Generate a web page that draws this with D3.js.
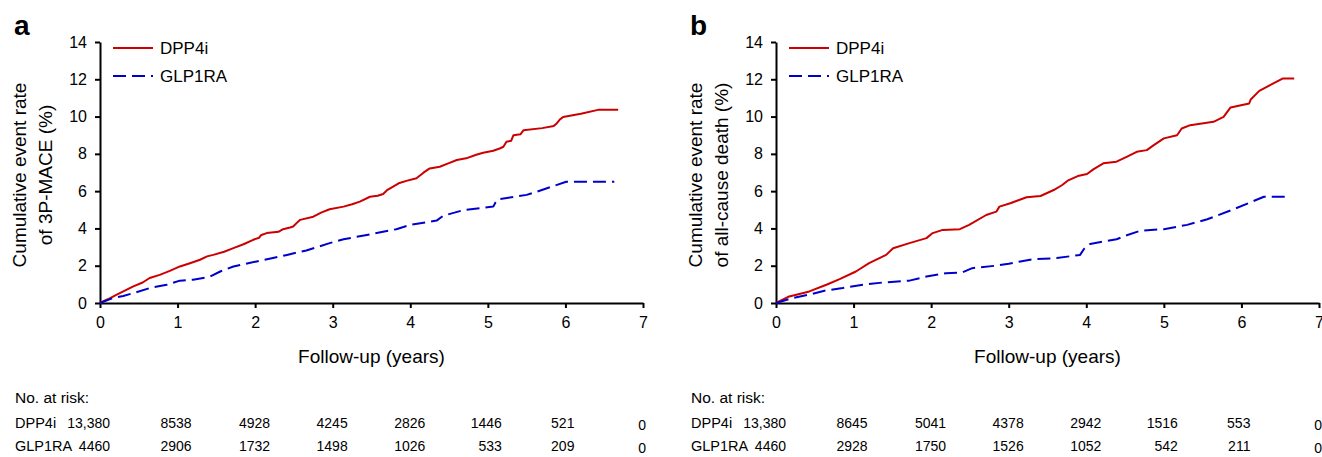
<!DOCTYPE html>
<html>
<head>
<meta charset="utf-8">
<script src="https://cdn.jsdelivr.net/npm/d3@7"></script>
<style>
  html, body { margin: 0; padding: 0; background: #fff; }
  svg { display: block; font-family: "Liberation Sans", Arial, Helvetica, sans-serif; }
</style>
</head>
<body>
<svg id="chart" width="1322" height="457"></svg>
<script>
// ---------- data ----------
const xTicks = [0, 1, 2, 3, 4, 5, 6, 7];
const yTicks = [0, 2, 4, 6, 8, 10, 12, 14];
const seriesNames = ["DPP4i", "GLP1RA"];
const panelLetters = ["a", "b"];
const yTitles = [["Cumulative event rate", "of 3P-MACE (%)"], ["Cumulative event rate", "of all-cause death (%)"]];
const xTitle = "Follow-up (years)";
const riskLabel = "No. at risk:";

const maceDPP4i = [[0,0],[0.1,0.2],[0.21,0.44],[0.43,0.89],[0.55,1.1],[0.64,1.34],[0.77,1.51],[0.9,1.72],[1.03,1.96],[1.15,2.12],[1.29,2.32],[1.38,2.5],[1.46,2.58],[1.6,2.75],[1.72,2.94],[1.85,3.15],[1.975,3.39],[2.05,3.5],[2.08,3.65],[2.15,3.75],[2.3,3.82],[2.36,3.96],[2.45,4.05],[2.49,4.1],[2.55,4.35],[2.58,4.46],[2.75,4.63],[2.85,4.85],[2.96,5.03],[3.14,5.17],[3.25,5.3],[3.35,5.44],[3.48,5.7],[3.58,5.75],[3.65,5.85],[3.7,6.05],[3.74,6.15],[3.85,6.42],[3.95,6.55],[4.08,6.69],[4.17,6.99],[4.25,7.22],[4.38,7.31],[4.49,7.49],[4.6,7.67],[4.72,7.76],[4.85,7.95],[4.94,8.06],[5.07,8.17],[5.16,8.3],[5.2,8.38],[5.24,8.65],[5.3,8.7],[5.33,9.0],[5.42,9.05],[5.46,9.27],[5.7,9.38],[5.85,9.5],[5.88,9.6],[5.93,9.85],[5.97,9.98],[6.2,10.15],[6.42,10.36],[6.68,10.36]];
const maceGLP1RA = [[0,0],[0.17,0.27],[0.3,0.38],[0.43,0.53],[0.64,0.8],[0.86,0.98],[1.03,1.2],[1.2,1.25],[1.35,1.35],[1.42,1.42],[1.55,1.69],[1.72,1.96],[2.02,2.23],[2.23,2.41],[2.41,2.58],[2.66,2.82],[2.8,3.0],[2.96,3.21],[3.14,3.42],[3.44,3.65],[3.82,3.96],[4.0,4.19],[4.34,4.42],[4.42,4.67],[4.69,4.99],[5.07,5.17],[5.1,5.4],[5.13,5.56],[5.5,5.8],[5.63,5.97],[6.01,6.5],[6.63,6.5]];
const deathDPP4i = [[0,0],[0.17,0.35],[0.43,0.62],[0.65,0.98],[0.82,1.28],[1.03,1.69],[1.2,2.14],[1.42,2.58],[1.51,2.94],[1.72,3.21],[1.94,3.48],[2.02,3.75],[2.15,3.92],[2.37,3.96],[2.49,4.19],[2.71,4.72],[2.84,4.9],[2.88,5.17],[3.02,5.35],[3.23,5.67],[3.41,5.74],[3.58,6.06],[3.69,6.33],[3.76,6.56],[3.89,6.81],[4.01,6.92],[4.09,7.17],[4.22,7.49],[4.39,7.58],[4.52,7.84],[4.65,8.11],[4.78,8.2],[4.87,8.47],[5.0,8.83],[5.17,9.0],[5.23,9.36],[5.34,9.54],[5.64,9.72],[5.77,9.98],[5.86,10.49],[6.1,10.7],[6.12,10.92],[6.23,11.38],[6.53,12.04],[6.68,12.04]];
const deathGLP1RA = [[0,0],[0.22,0.27],[0.43,0.45],[0.65,0.68],[0.86,0.8],[1.12,0.98],[1.38,1.1],[1.72,1.2],[1.94,1.42],[2.19,1.6],[2.4,1.64],[2.53,1.87],[2.83,2.0],[3.0,2.1],[3.15,2.23],[3.32,2.35],[3.62,2.41],[3.92,2.58],[3.97,2.9],[4.05,3.17],[4.39,3.42],[4.5,3.6],[4.7,3.88],[5.0,3.96],[5.3,4.19],[5.56,4.49],[5.9,5.03],[6.29,5.7],[6.63,5.7]];

const maceRiskDPP4i = ["13,380", "8538", "4928", "4245", "2826", "1446", "521", "0"];
const maceRiskGLP1RA = ["4460", "2906", "1732", "1498", "1026", "533", "209", "0"];
const deathRiskDPP4i = ["13,380", "8645", "5041", "4378", "2942", "1516", "553", "0"];
const deathRiskGLP1RA = ["4460", "2928", "1750", "1526", "1052", "542", "211", "0"];

const panels = [
  { letter: panelLetters[0], yTitle: yTitles[0], curves: [maceDPP4i, maceGLP1RA], risk: [maceRiskDPP4i, maceRiskGLP1RA] },
  { letter: panelLetters[1], yTitle: yTitles[1], curves: [deathDPP4i, deathGLP1RA], risk: [deathRiskDPP4i, deathRiskGLP1RA] }
];

// ---------- layout / style ----------
const colors = ["#cc0000", "#0000cc"];
const dashes = [null, "13,6"];
const panelOffset = [0, 676];
const plot = { left: 100, right: 643, top: 42, bottom: 303 };
// right-edge offsets (px) of risk numbers relative to each x tick
const riskOffsets = [10, 14, 15, 15, 15, 14, 9, 3];

const svg = d3.select("#chart");
svg.append("rect").attr("width", 1322).attr("height", 457).attr("fill", "#fff");

panels.forEach((p, pi) => {
  const g = svg.append("g").attr("transform", `translate(${panelOffset[pi]},0)`);
  const x = d3.scaleLinear().domain([0, 7]).range([plot.left, plot.right]);
  const y = d3.scaleLinear().domain([0, 14]).range([plot.bottom, plot.top]);

  // panel letter
  g.append("text").attr("x", 14).attr("y", 35)
    .attr("font-size", 28).attr("font-weight", "bold").attr("fill", "#000").text(p.letter);

  // axes
  const xAxis = g.append("g").attr("transform", `translate(0,${plot.bottom})`)
    .call(d3.axisBottom(x).tickValues(xTicks).tickFormat(d3.format("d")).tickSize(5).tickSizeOuter(0).tickPadding(4));
  const yAxis = g.append("g").attr("transform", `translate(${plot.left},0)`)
    .call(d3.axisLeft(y).tickValues(yTicks).tickFormat(d3.format("d")).tickSize(5).tickSizeOuter(0).tickPadding(8));
  [xAxis, yAxis].forEach(a => {
    a.select(".domain").attr("stroke", "#000").attr("stroke-width", 2);
    a.selectAll(".tick line").attr("stroke", "#000").attr("stroke-width", 2);
    a.selectAll(".tick text").attr("fill", "#000").attr("font-size", 16)
      .attr("font-family", '"Liberation Sans", Arial, sans-serif');
  });
  xAxis.selectAll(".tick text").attr("dy", "1em");

  // axis titles
  g.append("text").attr("x", (plot.left + plot.right) / 2).attr("y", 363)
    .attr("text-anchor", "middle").attr("font-size", 19).attr("fill", "#000").text(xTitle);
  const yt = g.append("text").attr("transform", `translate(26,175) rotate(-90)`)
    .attr("text-anchor", "middle").attr("font-size", 19).attr("fill", "#000");
  yt.append("tspan").attr("x", 0).attr("y", 0).text(p.yTitle[0]);
  yt.append("tspan").attr("x", 0).attr("y", 26).text(p.yTitle[1]);

  // curves
  const line = d3.line().x(d => x(d[0])).y(d => y(d[1]));
  p.curves.forEach((c, ci) => {
    g.append("path").datum(c).attr("d", line)
      .attr("fill", "none").attr("stroke", colors[ci]).attr("stroke-width", 2)
      .attr("stroke-linejoin", "round")
      .attr("stroke-dasharray", dashes[ci]);
  });

  // legend
  seriesNames.forEach((name, si) => {
    const ly = 48 + si * 28;
    g.append("line").attr("x1", 113).attr("x2", 153).attr("y1", ly).attr("y2", ly)
      .attr("stroke", colors[si]).attr("stroke-width", 2).attr("stroke-dasharray", dashes[si]);
    g.append("text").attr("x", 160).attr("y", ly + 6).attr("font-size", 17).attr("fill", "#000").text(name);
  });

  // risk table
  g.append("text").attr("x", 15).attr("y", 403).attr("font-size", 15.5).attr("fill", "#000").text(riskLabel);
  seriesNames.forEach((name, si) => {
    const ry = 428 + si * 23;
    g.append("text").attr("x", 15).attr("y", ry).attr("font-size", 14.5).attr("fill", "#000").text(name);
    p.risk[si].forEach((v, i) => {
      g.append("text").attr("x", x(xTicks[i]) + riskOffsets[i]).attr("y", ry + (i === 7 ? 2 : 0))
        .attr("text-anchor", "end").attr("font-size", 14).attr("fill", "#000").text(v);
    });
  });
});
</script>
</body>
</html>
